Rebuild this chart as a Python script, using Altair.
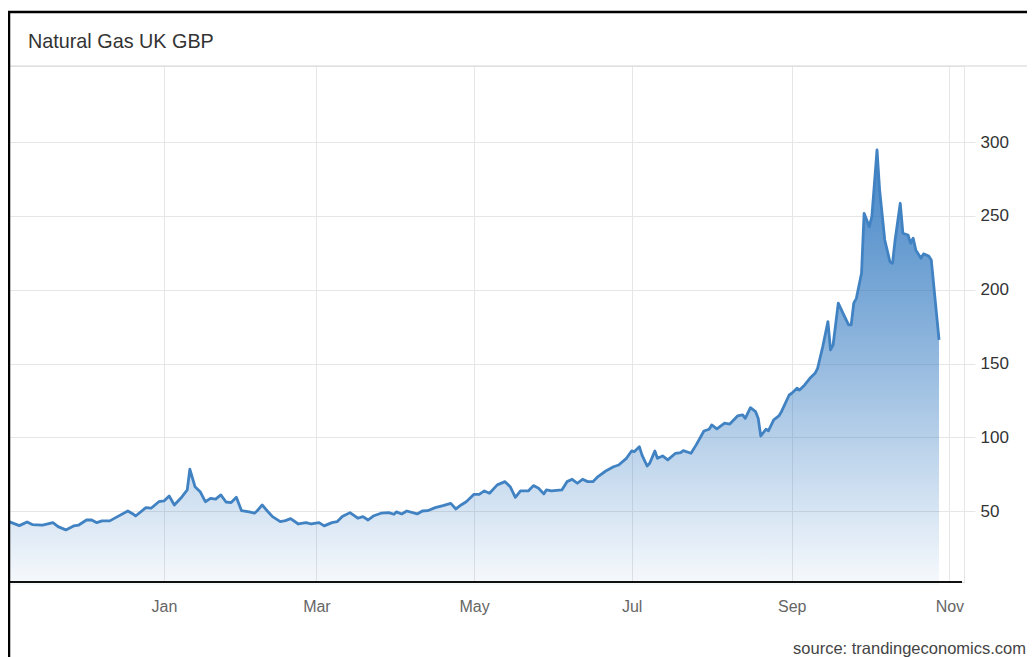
import altair as alt
import pandas as pd

# ---- data ----
dates = [
    "2020-11-02", "2020-11-06", "2020-11-09", "2020-11-11", "2020-11-15", "2020-11-19", "2020-11-21", "2020-11-24", "2020-11-27", "2020-11-29",
    "2020-12-02", "2020-12-04", "2020-12-06", "2020-12-08", "2020-12-11", "2020-12-14", "2020-12-18", "2020-12-20", "2020-12-21", "2020-12-25",
    "2020-12-27", "2020-12-30", "2021-01-01", "2021-01-03", "2021-01-05", "2021-01-08", "2021-01-10", "2021-01-11", "2021-01-13", "2021-01-15",
    "2021-01-17", "2021-01-19", "2021-01-21", "2021-01-23", "2021-01-25", "2021-01-27", "2021-01-29", "2021-01-31", "2021-02-03", "2021-02-05",
    "2021-02-06", "2021-02-08", "2021-02-10", "2021-02-12", "2021-02-15", "2021-02-17", "2021-02-19", "2021-02-22", "2021-02-25", "2021-02-27",
    "2021-03-02", "2021-03-04", "2021-03-07", "2021-03-09", "2021-03-11", "2021-03-14", "2021-03-17", "2021-03-19", "2021-03-21", "2021-03-23",
    "2021-03-26", "2021-03-29", "2021-03-31", "2021-04-01", "2021-04-03", "2021-04-05", "2021-04-09", "2021-04-11", "2021-04-13", "2021-04-16",
    "2021-04-19", "2021-04-22", "2021-04-24", "2021-04-26", "2021-04-28", "2021-05-01", "2021-05-03", "2021-05-05", "2021-05-07", "2021-05-10",
    "2021-05-13", "2021-05-15", "2021-05-17", "2021-05-19", "2021-05-22", "2021-05-24", "2021-05-26", "2021-05-28", "2021-05-29", "2021-05-31",
    "2021-06-04", "2021-06-06", "2021-06-08", "2021-06-10", "2021-06-12", "2021-06-14", "2021-06-16", "2021-06-18", "2021-06-21", "2021-06-24",
    "2021-06-26", "2021-06-29", "2021-07-01", "2021-07-02", "2021-07-04", "2021-07-05", "2021-07-07", "2021-07-08", "2021-07-10", "2021-07-11",
    "2021-07-13", "2021-07-15", "2021-07-18", "2021-07-20", "2021-07-21", "2021-07-24", "2021-07-26", "2021-07-29", "2021-07-31", "2021-08-01",
    "2021-08-03", "2021-08-06", "2021-08-08", "2021-08-11", "2021-08-13", "2021-08-14", "2021-08-16", "2021-08-18", "2021-08-19", "2021-08-20",
    "2021-08-22", "2021-08-23", "2021-08-25", "2021-08-27", "2021-08-28", "2021-08-31", "2021-09-01", "2021-09-03", "2021-09-04", "2021-09-06",
    "2021-09-08", "2021-09-10", "2021-09-11", "2021-09-13", "2021-09-15", "2021-09-16", "2021-09-17", "2021-09-19", "2021-09-21", "2021-09-23",
    "2021-09-24", "2021-09-25", "2021-09-26", "2021-09-28", "2021-09-29", "2021-10-01", "2021-10-02", "2021-10-04", "2021-10-05", "2021-10-07",
    "2021-10-09", "2021-10-10", "2021-10-11", "2021-10-13", "2021-10-14", "2021-10-16", "2021-10-17", "2021-10-18", "2021-10-19", "2021-10-21",
    "2021-10-22", "2021-10-24", "2021-10-25", "2021-10-28",
]

values = [
    42.9, 40.2, 42.7, 40.9, 40.6, 42.2, 39.5, 37.3, 40.0, 40.6,
    44.0, 44.0, 42.2, 43.4, 43.4, 46.3, 50.1, 48.1, 46.7, 52.4,
    52.0, 56.4, 56.9, 60.3, 54.2, 59.8, 64.4, 78.4, 66.6, 63.2,
    56.4, 58.7, 58.1, 61.0, 56.2, 55.8, 59.4, 50.3, 49.5, 48.6,
    50.1, 54.2, 50.1, 46.3, 42.9, 43.6, 44.9, 41.3, 42.2, 41.3,
    42.2, 40.0, 42.2, 42.9, 46.3, 49.0, 45.2, 46.3, 44.0, 46.7,
    48.6, 49.0, 47.9, 49.5, 48.1, 50.1, 48.1, 50.1, 50.3, 52.4,
    53.7, 55.3, 51.5, 54.2, 56.4, 61.4, 61.4, 63.7, 62.1, 67.8,
    70.0, 66.6, 59.4, 63.7, 63.7, 67.3, 65.5, 61.7, 64.4, 63.7,
    64.4, 70.0, 71.6, 68.9, 71.6, 70.0, 70.0, 73.4, 77.2, 80.1,
    81.3, 85.8, 90.8, 90.3, 93.7, 88.1, 80.6, 82.5, 90.8, 85.8,
    87.4, 84.7, 89.2, 89.6, 91.0, 89.2, 94.9, 104.3, 105.5, 108.4,
    105.7, 109.6, 109.0, 114.5, 115.2, 112.9, 120.1, 117.4, 112.9, 100.9,
    105.5, 104.5, 111.8, 114.5, 117.4, 128.7, 129.9, 133.3, 132.1, 135.5,
    140.0, 143.4, 146.8, 161.5, 178.4, 159.2, 162.6, 190.9, 183.5, 176.2,
    176.2, 190.9, 194.2, 211.2, 251.8, 242.8, 249.5, 294.7, 267.6, 233.7,
    219.0, 217.9, 233.7, 258.6, 238.3, 237.1, 231.5, 234.9, 227.0, 221.3,
    224.3, 222.9, 220.2, 166.0,
]

tick_months = [1, 3, 5, 7, 9, 11]
y_ticks = [50, 100, 150, 200, 250, 300]
title_text = "Natural Gas UK GBP"
source_text = "source: trandingeconomics.com"

FONT = "Liberation Sans"
GRID = "#e6e6e6"
LINE = "#4182c3"

df = pd.DataFrame({"date": dates, "value": values})
one = pd.DataFrame({"k": [0]})

x_enc = alt.X(
    "date:T",
    scale=alt.Scale(
        type="utc",
        nice=False,
        domain=[
            alt.DateTime(year=2020, month=11, date=2, utc=True),
            alt.DateTime(year=2021, month=11, date=6, hours=16, utc=True),
        ],
    ),
    axis=alt.Axis(
        values=[alt.DateTime(year=2021, month=m, date=1, utc=True) for m in tick_months],
        labelExpr="utcFormat(datum.value, '%b')",
        title=None,
        grid=True,
        gridColor=GRID,
        gridWidth=1,
        ticks=False,
        domain=False,
        labelPadding=16,
        labelFontSize=16,
        labelColor="#666666",
        labelFont=FONT,
    ),
)

y_enc = alt.Y(
    "value:Q",
    scale=alt.Scale(domain=[2, 351.6], nice=False, zero=False),
    axis=alt.Axis(
        orient="right",
        values=y_ticks,
        title=None,
        grid=True,
        gridColor=GRID,
        gridWidth=1,
        ticks=True,
        tickColor=GRID,
        tickSize=11,
        domain=True,
        domainColor=GRID,
        labelPadding=5,
        labelFontSize=17,
        labelColor="#333333",
        labelFont=FONT,
    ),
)

base = alt.Chart(df)

area = base.mark_area(
    color=alt.Gradient(
        gradient="linear",
        stops=[
            alt.GradientStop(color="rgba(40,115,190,0.87)", offset=0),
            alt.GradientStop(color="rgba(40,115,190,0.57)", offset=0.4),
            alt.GradientStop(color="rgba(40,115,190,0.30)", offset=0.7),
            alt.GradientStop(color="rgba(40,115,190,0.04)", offset=1),
        ],
        x1=1, x2=1, y1=0, y2=1,
    )
).encode(x=x_enc, y=y_enc)

line = base.mark_line(color=LINE, strokeWidth=2.8, strokeJoin="round").encode(
    x="date:T", y="value:Q"
)

# frame / header decorations
baseline_rule = alt.Chart(one).mark_rule(color="#111111", strokeWidth=2).encode(
    x=alt.value(0), x2=alt.value(953), y=alt.value(516)
)
left_border = alt.Chart(one).mark_rule(color="#000000", strokeWidth=2.5).encode(
    x=alt.value(0), y=alt.value(-55), y2=alt.value(700)
)
top_border = alt.Chart(one).mark_rule(color="#000000", strokeWidth=2.5).encode(
    x=alt.value(-1), x2=alt.value(1100), y=alt.value(-54)
)
header_rule = alt.Chart(one).mark_rule(color="#e2e2e2", strokeWidth=1.5).encode(
    x=alt.value(0), x2=alt.value(1100), y=alt.value(0)
)

title = alt.Chart(one).mark_text(
    align="left", baseline="alphabetic", fontSize=19.8, font=FONT, color="#333333"
).encode(x=alt.value(19), y=alt.value(-18), text=alt.value(title_text))

source = alt.Chart(one).mark_text(
    align="right", baseline="alphabetic", fontSize=16.5, font=FONT, color="#444444"
).encode(x=alt.value(1017), y=alt.value(588), text=alt.value(source_text))

chart = (
    alt.layer(area, line, baseline_rule, header_rule, left_border, top_border, title, source)
    .properties(
        width=955,
        height=516,
        padding={"left": 1, "top": 58, "right": 63, "bottom": 75},
        autosize=alt.AutoSizeParams(type="none"),
    )
    .configure_view(stroke=None)
    .configure(background="white")
)

chart.save("out.html", embed_options={"renderer": "svg", "actions": False})
